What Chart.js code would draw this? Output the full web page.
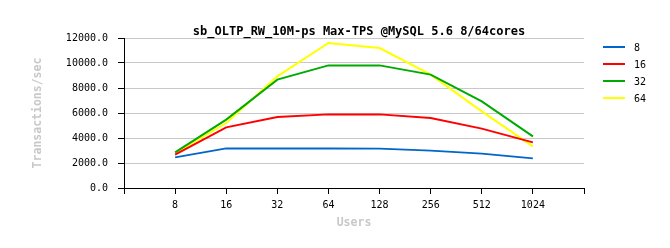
<!DOCTYPE html>
<html>
<head>
<meta charset="utf-8">
<script src="https://cdn.jsdelivr.net/npm/chart.js@4/dist/chart.umd.min.js"></script>
<style>
html,body{margin:0;padding:0;background:#fff;}
#wrap{width:670px;height:248px;position:relative;}
</style>
</head>
<body>
<div id="wrap"><canvas id="c" width="670" height="248"></canvas></div>
<script>
const chartTitle = 'sb_OLTP_RW_10M-ps Max-TPS @MySQL 5.6 8/64cores';
const users = ['8','16','32','64','128','256','512','1024'];
const seriesNames = ['8','16','32','64'];
const s8  = [2450, 3170, 3170, 3170, 3150, 2990, 2750, 2370];
const s16 = [2670, 4850, 5680, 5890, 5890, 5600, 4750, 3650];
const s32 = [2850, 5470, 8670, 9810, 9810, 9070, 6930, 4130];
const s64 = [2780, 5200, 8930, 11600, 11200, 9070, 6130, 3330];
const colors = ['#0066cc', '#ff0000', '#00aa00', '#ffff00'];
const allSeries = [s8, s16, s32, s64];
const yTicks = [0, 2000, 4000, 6000, 8000, 10000, 12000];

const mono = "'DejaVu Sans Mono', 'Liberation Mono', monospace";

const datasets = allSeries.map((s, i) => ({
  label: seriesNames[i],
  data: s.map((v, j) => ({x: j + 1, y: v})),
  borderColor: colors[i],
  backgroundColor: colors[i],
  borderWidth: 2,
  pointRadius: 0,
  tension: 0,
  fill: false
}));

const decorPlugin = {
  id: 'decor',
  afterDraw(chart) {
    const ctx = chart.ctx;
    ctx.save();
    // title
    ctx.fillStyle = '#000';
    ctx.font = 'bold 12px ' + mono;
    ctx.textAlign = 'center';
    ctx.textBaseline = 'middle';
    ctx.fillText(chartTitle, 359, 31.5);
    // legend
    chart.data.datasets.forEach((ds, i) => {
      const y = 47 + i * 17;
      ctx.strokeStyle = ds.borderColor;
      ctx.lineWidth = 2;
      ctx.beginPath();
      ctx.moveTo(603, y);
      ctx.lineTo(625, y);
      ctx.stroke();
      ctx.fillStyle = '#000';
      ctx.font = '10px ' + mono;
      ctx.textAlign = 'left';
      ctx.textBaseline = 'middle';
      ctx.fillText(ds.label, 634, y + 1);
    });
    ctx.restore();
  }
};

new Chart(document.getElementById('c'), {
  type: 'line',
  data: { datasets },
  plugins: [decorPlugin],
  options: {
    responsive: false,
    animation: false,
    devicePixelRatio: 1,
    layout: { padding: { left: 0, right: 86, top: 38, bottom: 0 } },
    plugins: {
      legend: { display: false },
      tooltip: { enabled: false },
      title: { display: false }
    },
    scales: {
      x: {
        type: 'linear',
        min: 0,
        max: users.length + 1,
        afterFit(scale) { scale.height = 60; },
        afterBuildTicks(scale) {
          scale.ticks = [];
          for (let i = 0; i <= users.length + 1; i++) scale.ticks.push({value: i});
        },
        ticks: {
          color: '#000',
          font: { family: mono, size: 10 },
          padding: 5,
          maxRotation: 0,
          autoSkip: false,
          callback: (v) => (v >= 1 && v <= users.length) ? users[v - 1] : ''
        },
        grid: {
          drawOnChartArea: false,
          drawTicks: true,
          tickLength: 6,
          tickColor: '#000'
        },
        border: { display: true, color: '#000', width: 1 },
        title: {
          display: true,
          text: 'Users',
          color: '#c8c8c8',
          font: { family: mono, size: 11.5, weight: 'bold', lineHeight: 1.2 },
          padding: { top: 0, bottom: 18 }
        }
      },
      y: {
        min: 0,
        max: 12000,
        afterFit(scale) { scale.width = 124; },
        afterBuildTicks(scale) {
          scale.ticks = yTicks.map(v => ({value: v}));
        },
        ticks: {
          color: '#000',
          font: { family: mono, size: 10 },
          padding: 10,
          callback: (v) => Number(v).toFixed(1)
        },
        grid: {
          color: '#c8c8c8',
          lineWidth: 1,
          drawTicks: true,
          tickLength: 6,
          tickColor: '#000'
        },
        border: { display: true, color: '#000', width: 1 },
        title: {
          display: true,
          text: 'Transactions/sec',
          color: '#c8c8c8',
          font: { family: mono, size: 11.5, weight: 'bold', lineHeight: 1.2 },
          padding: { top: 31.6, bottom: 0 }
        }
      }
    }
  }
});
</script>
</body>
</html>
